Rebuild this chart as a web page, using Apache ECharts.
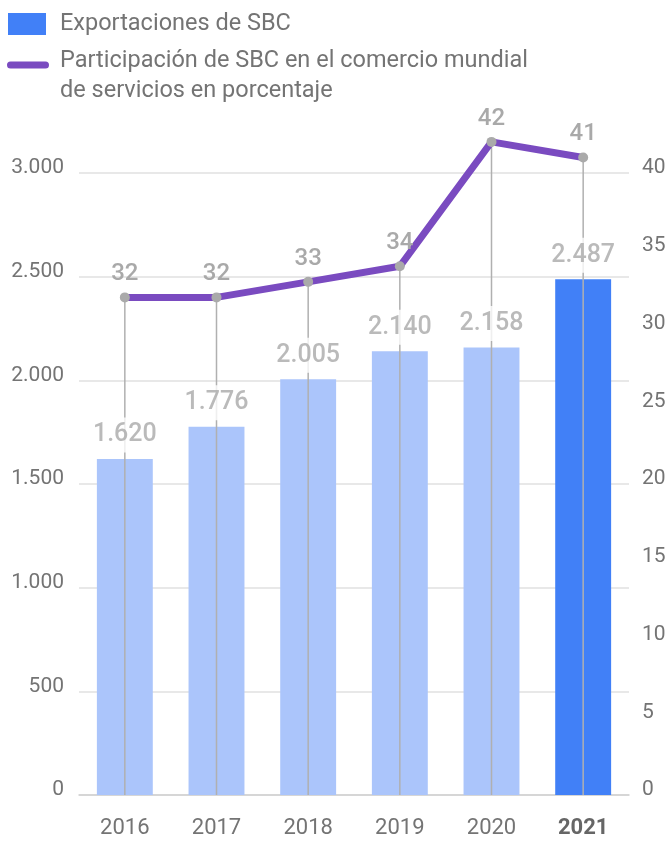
<!DOCTYPE html>
<html><head><meta charset="utf-8">
<script src="https://cdn.jsdelivr.net/npm/echarts@6/dist/echarts.min.js"></script>
<style>html,body{margin:0;padding:0;background:#fff}#c{width:669px;height:843px}</style>
</head><body><div id="c"></div>
<script>
const years = ['2016','2017','2018','2019','2020','2021'];
const exportsSBC = [1620, 1776, 2005, 2140, 2158, 2487];
const shareSBC = [32, 32, 33, 34, 42, 41];
const highlightYear = '2021';
const barName = 'Exportaciones de SBC';
const lineName = 'Participación de SBC en el comercio mundial de servicios en porcentaje';
const lineLegendText = 'Participación de SBC en el comercio mundial\nde servicios en porcentaje';

const fmt = v => String(v).replace(/\B(?=(\d{3})+(?!\d))/g, '.');
const FONT = 'Roboto';
const GRAY_LBL = '#a9a9a9';
const AXIS_TXT = '#747474';

// legend icons: visible mark plus an invisible zero-area stroke that sets the icon box
const barIcon = 'path://M0,0 L38,0 L38,22 L0,22 Z M47,0 L47,22 Z';
const lineIcon = 'path://M3.5,4.5 L38.5,4.5 A3.5,3.5 0 0 1 38.5,11.5 L3.5,11.5 A3.5,3.5 0 0 1 3.5,4.5 Z M48,0 L48,38 Z';

const chart = echarts.init(document.getElementById('c'), null, {renderer:'canvas'});
chart.setOption({
  animation: false,
  textStyle: {fontFamily: FONT},
  legend: [
    {data:[{name:barName, icon:barIcon}], left:8, top:12, itemWidth:47, itemHeight:22, selectedMode:false, padding:0,
     itemStyle:{borderWidth:0},
     textStyle:{fontSize:23.5, color:AXIS_TXT, fontFamily:FONT}},
    {data:[{name:lineName, icon:lineIcon}], left:7, top:46, itemWidth:48, itemHeight:38, selectedMode:false, padding:0,
     itemStyle:{borderWidth:0},
     formatter: () => lineLegendText,
     textStyle:{fontSize:23.5, color:AXIS_TXT, lineHeight:30, fontFamily:FONT}}
  ],
  grid: {left:79, right:40, top:173, bottom:48, containLabel:false},
  xAxis: {
    type:'category',
    data: years.map(y => y === highlightYear ? {value:y, textStyle:{fontWeight:'bold', color:'#666'}} : y),
    axisLine:{lineStyle:{color:'#d0d0d0', width:1.5}},
    axisTick:{show:false},
    axisLabel:{fontSize:22, color:AXIS_TXT, margin:22, fontFamily:FONT}
  },
  yAxis: [
    {type:'value', min:0, max:3000, interval:500,
     axisLine:{show:false}, axisTick:{show:false},
     splitLine:{lineStyle:{color:'#e0e0e0', width:1.5}},
     axisLabel:{fontSize:21, color:AXIS_TXT, margin:15, formatter: fmt, verticalAlign:'bottom', lineHeight:10, fontFamily:FONT}},
    {type:'value', min:0, max:40, interval:5, position:'right',
     axisLine:{show:false}, axisTick:{show:false}, splitLine:{show:false},
     axisLabel:{fontSize:21, color:AXIS_TXT, margin:13, verticalAlign:'bottom', lineHeight:10, fontFamily:FONT}}
  ],
  series: [
    {name:barName, type:'bar', z:1, barWidth:'61%',
     itemStyle:{color:'#4180f7'},
     data: exportsSBC.map((v,i) => years[i] === highlightYear ? v : {value:v, itemStyle:{color:'#abc5fb'}})},
    {name:'guides', type:'custom', yAxisIndex:1, z:2, silent:true,
     data: shareSBC.map((v,i) => [i, v]),
     renderItem: (params, api) => {
       const p1 = api.coord([api.value(0), api.value(1)]);
       const p0 = api.coord([api.value(0), 0]);
       return {type:'line', shape:{x1:p1[0], y1:p1[1], x2:p0[0], y2:p0[1]},
               style:{stroke:'#b0b0b0', lineWidth:1.5}};
     }},
    {name:lineName, type:'line', yAxisIndex:1, z:3, clip:false,
     itemStyle:{color:'#7a4bc0'},
     lineStyle:{color:'#7a4bc0', width:7},
     symbol:'circle', symbolSize:10,
     data: shareSBC.map(v => ({value:v, itemStyle:{color:'#aaaaaa'}})),
     label:{show:true, position:'top', distance:6, fontSize:24, fontWeight:500, color:GRAY_LBL, fontFamily:FONT}},
    {name:'barLabels', type:'scatter', yAxisIndex:0, z:4, silent:true,
     symbolSize:1, itemStyle:{color:'transparent'},
     data: exportsSBC,
     label:{show:true, position:'top', distance:6, fontSize:25, fontWeight:500, color:GRAY_LBL,
            formatter: p => fmt(p.value), backgroundColor:'#fff', padding:[5,1,5,1], fontFamily:FONT}}
  ]
});
</script></body></html>
